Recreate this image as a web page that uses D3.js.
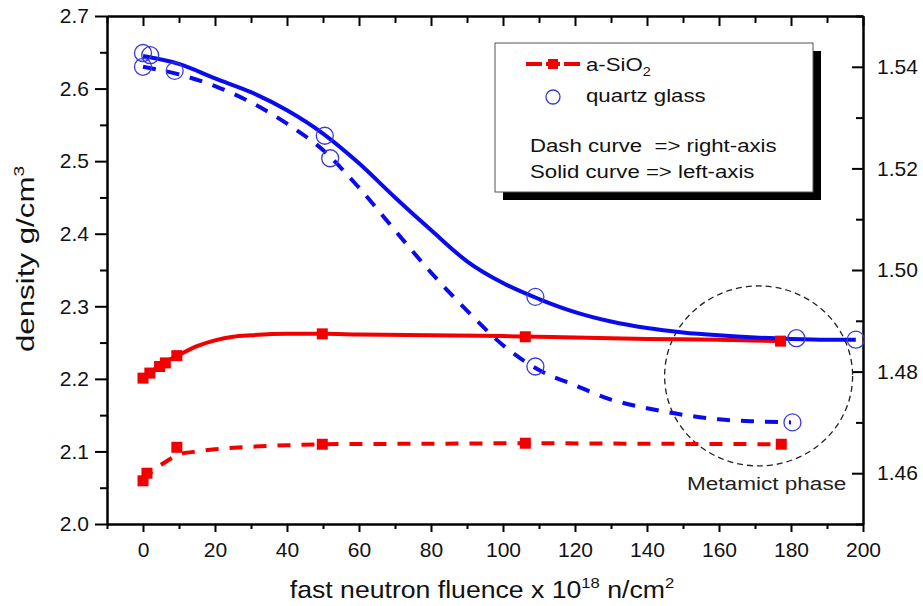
<!DOCTYPE html>
<html><head><meta charset="utf-8">
<script src="https://cdn.jsdelivr.net/npm/d3@7"></script>
<style>
body{margin:0;background:#fff;}
svg{display:block;font-family:"Liberation Sans",Arial,sans-serif;}
</style></head>
<body>
<svg id="c" width="923" height="606"></svg>
<script>
// ---- data ----
const xTicks = [0,20,40,60,80,100,120,140,160,180,200];
const xMinor = [-10,10,30,50,70,90,110,130,150,170,190];
const leftTicks = [2.0,2.1,2.2,2.3,2.4,2.5,2.6,2.7];
const leftMinor = [2.05,2.15,2.25,2.35,2.45,2.55,2.65];
const rightTicks = [1.46,1.48,1.50,1.52,1.54];
const rightMinor = [1.45,1.47,1.49,1.51,1.53,1.55];

// a-SiO2 squares, solid (left axis)
const sioSolidX = [0,1.9,4.6,6.2,9.4,49.8,106.2,177.1];
const sioSolidY = [2.201,2.208,2.217,2.222,2.232,2.262,2.258,2.252];
// a-SiO2 squares, dashed (right axis)
const sioDashX = [0,1.1,9.4,49.8,106.2,177.3];
const sioDashY = [1.4585,1.4600,1.4651,1.4657,1.4659,1.4657];
// quartz glass circles, solid (left axis)
const qgSolidX = [0,2,50.5,109,181.5,198];
const qgSolidY = [2.649,2.646,2.535,2.313,2.256,2.254];
// quartz glass circles, dashed (right axis)
const qgDashX = [0,8.8,52,109,180.4];
const qgDashY = [1.540,1.5392,1.522,1.481,1.470];

// fitted curves
const sioSolidCurveX = [0,2,4,6,8,10,15,20,25,30,40,50,60,80,100,120,140,160,177];
const sioSolidCurveY = [2.200,2.208,2.216,2.222,2.228,2.233,2.245,2.253,2.258,2.260,2.262,2.262,2.261,2.260,2.259,2.257,2.255,2.254,2.252];
const sioDashCurveX = [0,2,4,6,8,10,14,20,30,40,50,80,106,140,177];
const sioDashCurveY = [1.4585,1.4600,1.4612,1.4621,1.4630,1.4637,1.4642,1.4647,1.4652,1.4655,1.4657,1.4658,1.4659,1.4658,1.4657];
const qgSolidCurveX = [0,10,20,30,40,50,60,70,80,90,100,110,120,130,140,150,160,170,180,190,198];
const qgSolidCurveY = [2.645,2.634,2.614,2.595,2.570,2.538,2.497,2.450,2.405,2.362,2.332,2.310,2.292,2.279,2.270,2.264,2.260,2.257,2.255,2.254,2.254];
const qgDashCurveX = [0,10,20,30,40,50,60,70,80,90,100,110,120,130,140,150,160,170,180];
const qgDashCurveY = [1.540,1.5385,1.5362,1.5330,1.5288,1.5236,1.5162,1.5078,1.4995,1.4920,1.4852,1.4803,1.4773,1.4745,1.4728,1.4715,1.4706,1.4702,1.4700];

// ---- layout ----
const svg = d3.select("#c");
const L=107, R=863, T=16, B=524;
const x = d3.scaleLinear().domain([-10,200]).range([L,R]);
const yl = d3.scaleLinear().domain([2.0,2.7]).range([B,T]);
const yr = d3.scaleLinear().domain([1.45,1.55]).range([B,T]);
const RED="#f20000", BLUE="#0a0aef", CIRC="#3a3ad8";

// axes
function styleAxis(g){
  g.select(".domain").attr("stroke","#000").attr("stroke-width",2);
  g.selectAll(".tick line").attr("stroke","#000").attr("stroke-width",2);
  g.selectAll(".tick text").attr("fill","#111").attr("font-size",21);
}
// left
svg.append("g").attr("transform",`translate(${L},0)`)
  .call(d3.axisLeft(yl).tickValues(leftMinor).tickSize(7).tickFormat("").tickSizeOuter(0)).call(styleAxis);
svg.append("g").attr("transform",`translate(${L},0)`)
  .call(d3.axisLeft(yl).tickValues(leftTicks).tickSize(12).tickPadding(6).tickFormat(d3.format(".1f")).tickSizeOuter(0)).call(styleAxis);
// right (ticks inward)
svg.append("g").attr("transform",`translate(${R},0)`)
  .call(d3.axisRight(yr).tickValues(rightMinor).tickSize(-7).tickFormat("").tickSizeOuter(0)).call(styleAxis);
svg.append("g").attr("transform",`translate(${R},0)`)
  .call(d3.axisRight(yr).tickValues(rightTicks).tickSize(-11).tickPadding(14).tickFormat(d3.format(".2f")).tickSizeOuter(0)).call(styleAxis);
// bottom
svg.append("g").attr("transform",`translate(0,${B})`)
  .call(d3.axisBottom(x).tickValues(xMinor).tickSize(5).tickFormat("").tickSizeOuter(0)).call(styleAxis);
svg.append("g").attr("transform",`translate(0,${B})`)
  .call(d3.axisBottom(x).tickValues(xTicks).tickSize(8).tickPadding(10).tickFormat(d3.format("d")).tickSizeOuter(0)).call(styleAxis);
// top (ticks inward, no labels)
svg.append("g").attr("transform",`translate(0,${T})`)
  .call(d3.axisTop(x).tickValues(xMinor).tickSize(-7).tickFormat("").tickSizeOuter(0)).call(styleAxis);
svg.append("g").attr("transform",`translate(0,${T})`)
  .call(d3.axisTop(x).tickValues(xTicks).tickSize(-10).tickFormat("").tickSizeOuter(0)).call(styleAxis);

// axis titles (reference text is stretched along its run)
svg.append("text").attr("transform",`translate(34,259) rotate(-90) scale(1.36,1)`)
  .attr("text-anchor","middle").attr("font-size",23).attr("fill","#111")
  .html('density g/cm<tspan dy="-10" font-size="14">3</tspan>');
svg.append("text").attr("transform",`translate(482,598) scale(1.11,1)`).attr("text-anchor","middle")
  .attr("font-size",24).attr("fill","#111")
  .html('fast neutron fluence x 10<tspan dy="-10" font-size="15">18</tspan><tspan dy="10"> n/cm</tspan><tspan dy="-10" font-size="15">2</tspan>');

// metamict circle
svg.append("ellipse").attr("cx",x(171)).attr("cy",yl(2.204)).attr("rx",94).attr("ry",90)
  .attr("fill","none").attr("stroke","#222").attr("stroke-width",1.3).attr("stroke-dasharray","6,4");
svg.append("text").attr("transform",`translate(687,490) scale(1.22,1)`)
  .attr("font-size",18.5).attr("fill","#222").text("Metamict phase");

// curves
const zipL = (xs,ys)=>xs.map((d,i)=>[x(d),yl(ys[i])]);
const zipR = (xs,ys)=>xs.map((d,i)=>[x(d),yr(ys[i])]);
const line = d3.line().curve(d3.curveMonotoneX);
function drawCurve(pts,color,dash){
  svg.append("path").attr("d",line(pts)).attr("fill","none").attr("stroke",color)
    .attr("stroke-width",4).attr("stroke-dasharray",dash||null);
}
drawCurve(zipL(sioSolidCurveX,sioSolidCurveY),RED);
drawCurve(zipR(sioDashCurveX,sioDashCurveY),RED,"13,11");
drawCurve(zipL(qgSolidCurveX,qgSolidCurveY),BLUE);
drawCurve(zipR(qgDashCurveX,qgDashCurveY),BLUE,"13,11");

// markers
function squares(pts){
  svg.append("g").selectAll("rect").data(pts).join("rect")
    .attr("x",d=>d[0]-5.5).attr("y",d=>d[1]-5.5).attr("width",11).attr("height",11).attr("fill",RED);
}
function circles(pts){
  svg.append("g").selectAll("circle").data(pts).join("circle")
    .attr("cx",d=>d[0]).attr("cy",d=>d[1]).attr("r",8.5)
    .attr("fill","none").attr("stroke",CIRC).attr("stroke-width",1.3);
}
squares(zipL(sioSolidX,sioSolidY));
squares(zipR(sioDashX,sioDashY));
circles(zipL(qgSolidX,qgSolidY));
circles(zipR(qgDashX,qgDashY));

// legend
const lg = svg.append("g");
lg.append("rect").attr("x",503).attr("y",51).attr("width",318).attr("height",149).attr("fill","#000");
lg.append("rect").attr("x",495).attr("y",43).attr("width",318).attr("height",149).attr("fill","#fff")
  .attr("stroke","#555").attr("stroke-width",1);
lg.append("line").attr("x1",526).attr("x2",580).attr("y1",64).attr("y2",64).attr("stroke",RED)
  .attr("stroke-width",4).attr("stroke-dasharray","16,4,14,4,16");
lg.append("rect").attr("x",548).attr("y",59).attr("width",10).attr("height",10).attr("fill",RED);
function ltext(xp,yp,html){
  return lg.append("text").attr("transform",`translate(${xp},${yp}) scale(1.2,1)`)
    .attr("font-size",18.5).attr("fill","#111").attr("xml:space","preserve").html(html);
}
ltext(586,71,'a-SiO<tspan dy="5" font-size="12">2</tspan>');
lg.append("circle").attr("cx",553).attr("cy",97).attr("r",7).attr("fill","none").attr("stroke",CIRC).attr("stroke-width",1.3);
ltext(586,102,"quartz glass");
ltext(530,152,"Dash curve  =&gt; right-axis");
ltext(530,178,"Solid curve =&gt; left-axis");
</script>
</body></html>
